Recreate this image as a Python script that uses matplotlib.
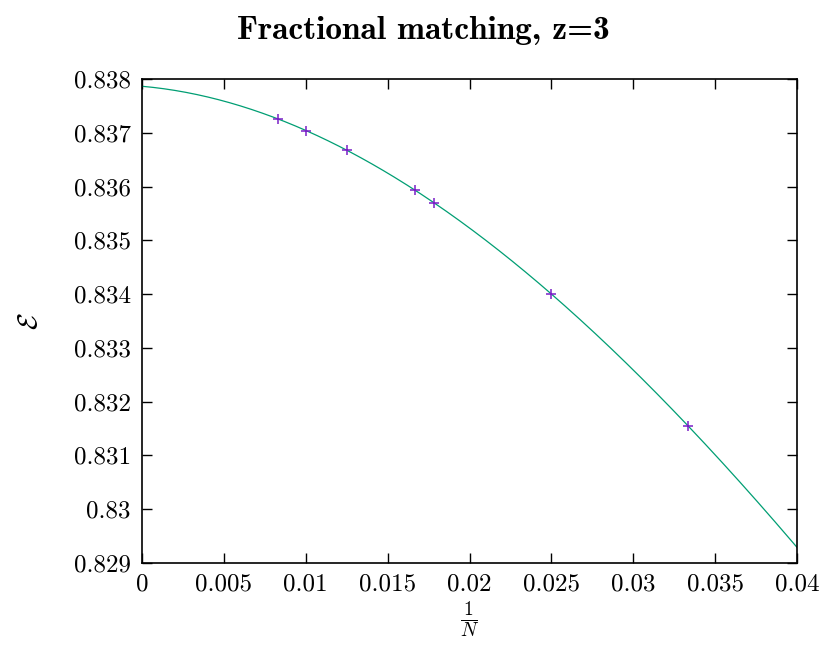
import numpy as np
import matplotlib
matplotlib.use("Agg")
import matplotlib.pyplot as plt

plt.rcParams['font.family'] = 'serif'
plt.rcParams['font.serif'] = ['cmr10']
plt.rcParams['mathtext.fontset'] = 'cm'
plt.rcParams['axes.unicode_minus'] = False

# system sizes N and measured energies
N = [120, 100, 80, 60, 56, 40, 30]
energy = [0.83726, 0.83704, 0.83668, 0.83594, 0.83569, 0.83400, 0.83155]

xticks = [0, 0.005, 0.01, 0.015, 0.02, 0.025, 0.03, 0.035, 0.04]
xticklabels = ['0', '0.005', '0.01', '0.015', '0.02', '0.025', '0.03', '0.035', '0.04']
yticks = [0.829, 0.83, 0.831, 0.832, 0.833, 0.834, 0.835, 0.836, 0.837, 0.838]
yticklabels = ['0.829', '0.83', '0.831', '0.832', '0.833', '0.834', '0.835', '0.836', '0.837', '0.838']

x = 1.0 / np.array(N, dtype=float)
y = np.array(energy)

# fit through the points (curve extrapolated to 1/N = 0)
coef = np.polyfit(x, y, 3)
xf = np.linspace(0, 0.04, 300)
yf = np.polyval(coef, xf)

fig = plt.figure(figsize=(8.23, 6.49), dpi=100)
ax = fig.add_axes([0.1725, 0.133, 0.796, 0.745])

ax.plot(xf, yf, color='#009e73', lw=0.9)
ax.plot(x, y, linestyle='none', marker='+', color='#7a1fc8', ms=7.5, mew=1.1)

ax.set_xlim(0, 0.04)
ax.set_ylim(0.829, 0.838)
ax.set_xticks(xticks)
ax.set_xticklabels(xticklabels)
ax.set_yticks(yticks)
ax.set_yticklabels(yticklabels)
ax.tick_params(direction='in', length=7, width=1, top=True, right=True, labelsize=18, pad=8)
for s in ax.spines.values():
    s.set_linewidth(1.2)

ax.set_xlabel(r'$\frac{1}{N}$', fontsize=20, labelpad=2)
ax.set_ylabel(r'$\mathcal{E}$', fontsize=20, labelpad=22)
fig.text(0.514, 0.953, 'Fractional matching, z=3', fontsize=24, fontfamily='cmb10',
         ha='center', va='center')

fig.savefig('out.png', dpi=100)
